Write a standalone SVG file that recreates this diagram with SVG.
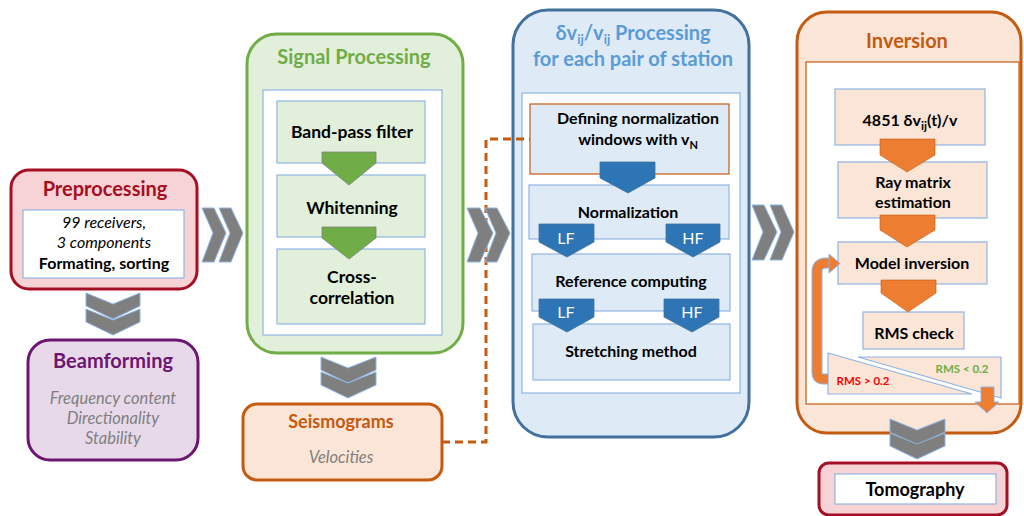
<svg xmlns="http://www.w3.org/2000/svg" width="1024" height="516" viewBox="0 0 1024 516">
<style>
text{font-family:Lato,"Liberation Sans",sans-serif;text-anchor:middle}
.b{font-weight:bold;fill:#000}
.t{font-size:20px;font-weight:bold}
.body{font-size:16px}
.sp{font-size:17.5px}
.it{font-style:italic;font-size:16px}
.gray{fill:#7F7F7F}
.inner{fill:#fff;stroke:#8FB4E3;stroke-width:1.2}
.chev{fill:#7F7F7F;stroke:#8FB4E3;stroke-width:1}
.lb{stroke:#8FB4E3;stroke-width:1.2}
.garr{fill:#70AD47;stroke:#808080;stroke-width:0.8}
.barr{fill:#2E75B6;stroke:#41719C;stroke-width:0.8}
.oarr{fill:#ED7D31;stroke:#C55A11;stroke-width:0.6}
.wl{fill:#fff;font-size:16px}
</style>
<rect width="1024" height="516" fill="#fff"/>

<g id="preprocessing">
<rect x="11" y="170" width="186" height="119" rx="18" fill="#F8D3D5" stroke="#A50F24" stroke-width="3"/>
<text x="105" y="196" class="t" fill="#A50F24">Preprocessing</text>
<rect x="23" y="210" width="161" height="68" class="inner"/>
<text x="104" y="228" class="it">99 receivers,</text>
<text x="104" y="248" class="it">3 components</text>
<text x="104" y="269" class="b" style="font-size:16px">Formating, sorting</text>
</g>

<g id="beamforming">
<rect x="28" y="340" width="170" height="120" rx="22" fill="#E8D9EA" stroke="#6C1571" stroke-width="3"/>
<text x="113" y="368" class="t" fill="#6C1571">Beamforming</text>
<text x="113" y="404" class="it gray" style="font-size:16.5px">Frequency content</text>
<text x="113" y="424" class="it gray" style="font-size:16.5px">Directionality</text>
<text x="113" y="444" class="it gray" style="font-size:16.5px">Stability</text>
</g>

<g id="signal-processing">
<rect x="247" y="34" width="216" height="319" rx="30" fill="#E2EFDA" stroke="#70AD47" stroke-width="3"/>
<text x="354" y="64" class="t" fill="#70AD47">Signal Processing</text>
<rect x="263" y="90" width="179" height="245" class="inner"/>
<rect x="277" y="101" width="148" height="62" fill="#E2EFDA" class="lb"/>
<text x="352" y="138" class="b sp">Band-pass filter</text>
<rect x="277" y="175" width="148" height="62" fill="#E2EFDA" class="lb"/>
<text x="352" y="214" class="b sp">Whitenning</text>
<rect x="277" y="249" width="148" height="75" fill="#E2EFDA" class="lb"/>
<text x="352" y="283" class="b sp">Cross-</text>
<text x="352" y="304" class="b sp">correlation</text>
<polygon points="322,152 376,152 376,163 349,185 322,163" class="garr"/>
<polygon points="322,227 376,227 376,238 349,259 322,238" class="garr"/>
</g>

<g id="seismograms">
<rect x="243" y="404" width="199" height="76" rx="14" fill="#FBE5D6" stroke="#C55A11" stroke-width="3"/>
<text x="341" y="428" class="b" style="font-size:18px;fill:#C55A11">Seismograms</text>
<text x="341" y="463" class="it gray" style="font-size:16.5px">Velocities</text>
</g>

<g id="dv-processing">
<rect x="513" y="10" width="236" height="427" rx="35" fill="#DEEBF7" stroke="#41719C" stroke-width="3"/>
<text x="633" y="40" class="t" fill="#5B9BD5">δv<tspan dy="4" font-size="13">ij</tspan><tspan dy="-4">/v</tspan><tspan dy="4" font-size="13">ij</tspan><tspan dy="-4"> Processing</tspan></text>
<text x="633" y="66" class="t" fill="#5B9BD5">for each pair of station</text>
<rect x="522" y="93" width="218" height="300" class="inner"/>
<rect x="530" y="104" width="199" height="70" fill="#DEEBF7" stroke="#C55A11" stroke-width="1.2"/>
<text x="638" y="124" class="b body">Defining normalization</text>
<text x="638" y="145" class="b body">windows with v<tspan dy="4" font-size="11">N</tspan></text>
<rect x="529" y="185" width="200" height="54" fill="#DEEBF7" class="lb"/>
<text x="628" y="218" class="b body">Normalization</text>
<rect x="532" y="254" width="198" height="57" fill="#DEEBF7" class="lb"/>
<text x="631" y="287" class="b body">Reference computing</text>
<rect x="533" y="324" width="197" height="56" fill="#DEEBF7" class="lb"/>
<text x="631" y="357" class="b body">Stretching method</text>
<polygon points="600,162 655,162 655,178 628,193 600,178" class="barr"/>
<polygon points="539,224 594,224 594,242 567,257 539,242" class="barr"/>
<text x="566" y="244" class="wl">LF</text>
<polygon points="666,224 720,224 720,242 693,257 666,242" class="barr"/>
<text x="693" y="244" class="wl">HF</text>
<polygon points="539,299 594,299 594,317 567,332 539,317" class="barr"/>
<text x="566" y="318" class="wl">LF</text>
<polygon points="664,299 719,299 719,317 692,332 664,317" class="barr"/>
<text x="692" y="318" class="wl">HF</text>
</g>

<g id="inversion">
<rect x="797" y="12" width="224" height="421" rx="30" fill="#FBE5D6" stroke="#C55A11" stroke-width="3"/>
<text x="907" y="48" class="t" fill="#C55A11">Inversion</text>
<rect x="806" y="62" width="213" height="342" fill="#fff" stroke="#C55A11" stroke-width="1.2"/>
<rect x="835" y="89" width="150" height="56" fill="#FBE5D6" class="lb"/>
<text x="910" y="126" class="b body">4851 δv<tspan dy="4" font-size="12">ij</tspan><tspan dy="-4">(t)/v</tspan></text>
<rect x="838" y="162" width="149" height="56" fill="#FBE5D6" class="lb"/>
<text x="913" y="188" class="b body">Ray matrix</text>
<text x="913" y="208" class="b body">estimation</text>
<rect x="838" y="242" width="149" height="42" fill="#FBE5D6" class="lb"/>
<text x="912" y="269" class="b body">Model inversion</text>
<rect x="863" y="312" width="101" height="37" fill="#FBE5D6" class="lb"/>
<text x="914" y="339" class="b body">RMS check</text>
<polygon points="880,139 935,139 935,155 907,172 880,155" class="oarr"/>
<polygon points="880,215 935,215 935,230 907,247 880,230" class="oarr"/>
<polygon points="881,280 936,280 936,293 908,312 881,293" class="oarr"/>
<polygon points="828,353 828,394 972,394" fill="#FBE5D6" class="lb"/>
<polygon points="858,357 1001,357 1001,398" fill="#FBE5D6" class="lb"/>
<text x="863" y="385" style="font-size:11.5px;font-weight:bold;fill:#FF0000">RMS &gt; 0.2</text>
<text x="962" y="373" style="font-size:11.5px;font-weight:bold;fill:#70AD47">RMS &lt; 0.2</text>
<path d="M828 379 L823 379 Q817 379 817 372 L817 272 Q817 263 826 263 L831 263" fill="none" stroke="#8FB4E3" stroke-width="11"/>
<path d="M828 379 L823 379 Q817 379 817 372 L817 272 Q817 263 826 263 L831 263" fill="none" stroke="#ED7D31" stroke-width="9"/>
<polygon points="829,254 840,263.5 829,273" fill="#ED7D31" stroke="#8FB4E3" stroke-width="1"/>
<polygon points="981,387 994,387 994,402 999,402 987,413 975,402 981,402" fill="#ED7D31" stroke="#8FB4E3" stroke-width="1"/>
</g>

<g id="tomography">
<rect x="819" y="463" width="188" height="52" rx="10" fill="#F8D3D5" stroke="#A50F24" stroke-width="3"/>
<rect x="835" y="474" width="161" height="30" class="inner"/>
<text x="915" y="496" class="b" style="font-size:18px">Tomography</text>
</g>

<g id="connectors">
<path d="M442 442 L486 442 L486 139 L530 139" fill="none" stroke="#C55A11" stroke-width="3" stroke-dasharray="8,5"/>
<g id="chev-right-1">
<polygon points="202,208 214,208 226,233 214,262 202,262 213,233" class="chev"/>
<polygon points="219,208 231,208 243,233 231,262 219,262 230,233" class="chev"/>
</g>
<g id="chev-right-2">
<polygon points="467,208 480,208 493,233 480,262 467,262 478,233" class="chev"/>
<polygon points="485,208 497,208 510,233 497,262 485,262 496,233" class="chev"/>
</g>
<g id="chev-right-3">
<polygon points="752,205 764,205 777,232 764,260 752,260 763,232" class="chev"/>
<polygon points="770,205 782,205 794,232 782,260 770,260 781,232" class="chev"/>
</g>
<g id="chev-down-1">
<polygon points="86,293 113,304 140,293 140,306 113,319 86,306" class="chev"/>
<polygon points="86,309 113,320 140,309 140,322 113,335 86,322" class="chev"/>
</g>
<g id="chev-down-2">
<polygon points="321,357 348,368 376,357 376,370 348,383 321,370" class="chev"/>
<polygon points="321,372 348,383 376,372 376,385 348,398 321,385" class="chev"/>
</g>
<g id="chev-down-3">
<polygon points="890,419 917,430 945,419 945,432 917,445 890,432" class="chev"/>
<polygon points="890,433 917,444 945,433 945,446 917,459 890,446" class="chev"/>
</g>
</g>
</svg>
